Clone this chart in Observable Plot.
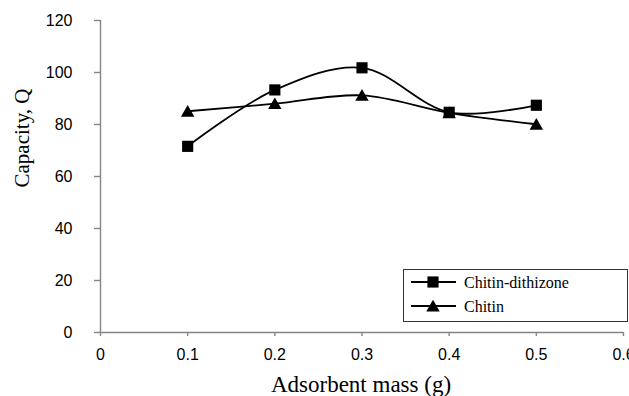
<!DOCTYPE html>
<html><head><meta charset="utf-8">
<script src="https://cdn.jsdelivr.net/npm/d3@7"></script>
<script src="https://cdn.jsdelivr.net/npm/@observablehq/plot@0.6"></script>
<style>
body{margin:0;background:#fff;}
#wrap{position:relative;width:629px;height:396px;overflow:hidden;}
#legend{position:absolute;left:403px;top:269px;}
#ytitle{position:absolute;left:22px;top:138px;transform:translate(-50%,-50%) rotate(-90deg);white-space:nowrap;font-family:'Liberation Serif','Times New Roman',serif;font-size:21px;line-height:1;color:#000;}
</style></head><body><div id="wrap"></div>
<script>
const masses = [0.1, 0.2, 0.3, 0.4, 0.5];
const dithizone = [71.6, 93.3, 101.8, 84.7, 87.4];
const chitin = [85.1, 88.0, 91.2, 84.5, 80.1];
const seriesNames = ["Chitin-dithizone", "Chitin"];
const seriesSymbols = ["square", "triangle"];
const xTicks = [0, 0.1, 0.2, 0.3, 0.4, 0.5, 0.6];
const yTicks = [0, 20, 40, 60, 80, 100, 120];
const xTitle = "Adsorbent mass (g)";
const yTitle = "Capacity, Q";

const rows = [];
masses.forEach((m, i) => {
  rows.push({mass: m, q: dithizone[i], series: seriesNames[0]});
});
masses.forEach((m, i) => {
  rows.push({mass: m, q: chitin[i], series: seriesNames[1]});
});
const sq = rows.filter(d => d.series === seriesNames[0]);
const tr = rows.filter(d => d.series === seriesNames[1]);

const axisColor = "#858585";
const chart = Plot.plot({
  width: 629, height: 396,
  marginLeft: 100, marginRight: 6, marginTop: 20, marginBottom: 64,
  x: {domain: [0, 0.6]},
  y: {domain: [0, 120]},
  style: {fontFamily: "'Liberation Sans', Arial, sans-serif", fontSize: "16px", color: "black", background: "white"},
  marks: [
    Plot.ruleY([0], {stroke: axisColor, strokeWidth: 1.4}),
    Plot.ruleX([0], {stroke: axisColor, strokeWidth: 1.4}),
    Plot.axisX({ticks: xTicks, tickSize: 4, tickPadding: 12, stroke: axisColor, fill: "black", strokeWidth: 1.4, label: null, fontSize: 16, tickFormat: d3.format("")}),
    Plot.axisY({ticks: yTicks, tickSize: 6, tickPadding: 22, stroke: axisColor, fill: "black", strokeWidth: 1.4, label: null, fontSize: 16}),
    Plot.line(sq, {x: "mass", y: "q", curve: "catmull-rom", stroke: "black", strokeWidth: 1.8}),
    Plot.line(tr, {x: "mass", y: "q", curve: "catmull-rom", stroke: "black", strokeWidth: 1.8}),
    Plot.dot(tr, {x: "mass", y: "q", symbol: "triangle", r: 5, fill: "black", stroke: "none", dy: 1.5}),
    Plot.dot(sq, {x: "mass", y: "q", symbol: "square", r: 6.3, fill: "black", stroke: "none"}),
    Plot.text([xTitle], {frameAnchor: "bottom", lineAnchor: "top", dy: 43, dx: -1, fontFamily: "'Liberation Serif', 'Times New Roman', serif", fontSize: 23, fill: "black"})
  ]
});
const wrap = document.getElementById("wrap");
wrap.appendChild(chart);

// y title
d3.select(wrap).append("div").attr("id", "ytitle").text(yTitle);

// legend
const lg = d3.select(wrap).append("svg").attr("id", "legend").attr("width", 226).attr("height", 54);
lg.append("rect").attr("x", 0.5).attr("y", 0.5).attr("width", 224).attr("height", 52).attr("fill", "white").attr("stroke", "#333").attr("stroke-width", 1);
const rowY = [13, 37];
const symSize = [Math.PI * 6.3 * 6.3, Math.PI * 5 * 5];
seriesNames.forEach((name, i) => {
  const g = lg.append("g").attr("transform", `translate(0,${rowY[i]})`);
  g.append("line").attr("x1", 8).attr("x2", 53).attr("y1", 0).attr("y2", 0).attr("stroke", "black").attr("stroke-width", 1.8);
  const sym = seriesSymbols[i] === "square" ? d3.symbolSquare : d3.symbolTriangle;
  g.append("path").attr("d", d3.symbol(sym, symSize[i])()).attr("transform", `translate(30,${i ? 1.5 : 0})`).attr("fill", "black");
  g.append("text").attr("x", 61).attr("y", 5.5).attr("font-family", "'Liberation Serif', 'Times New Roman', serif").attr("font-size", 16).attr("fill", "black").text(name);
});
</script>
</body></html>
